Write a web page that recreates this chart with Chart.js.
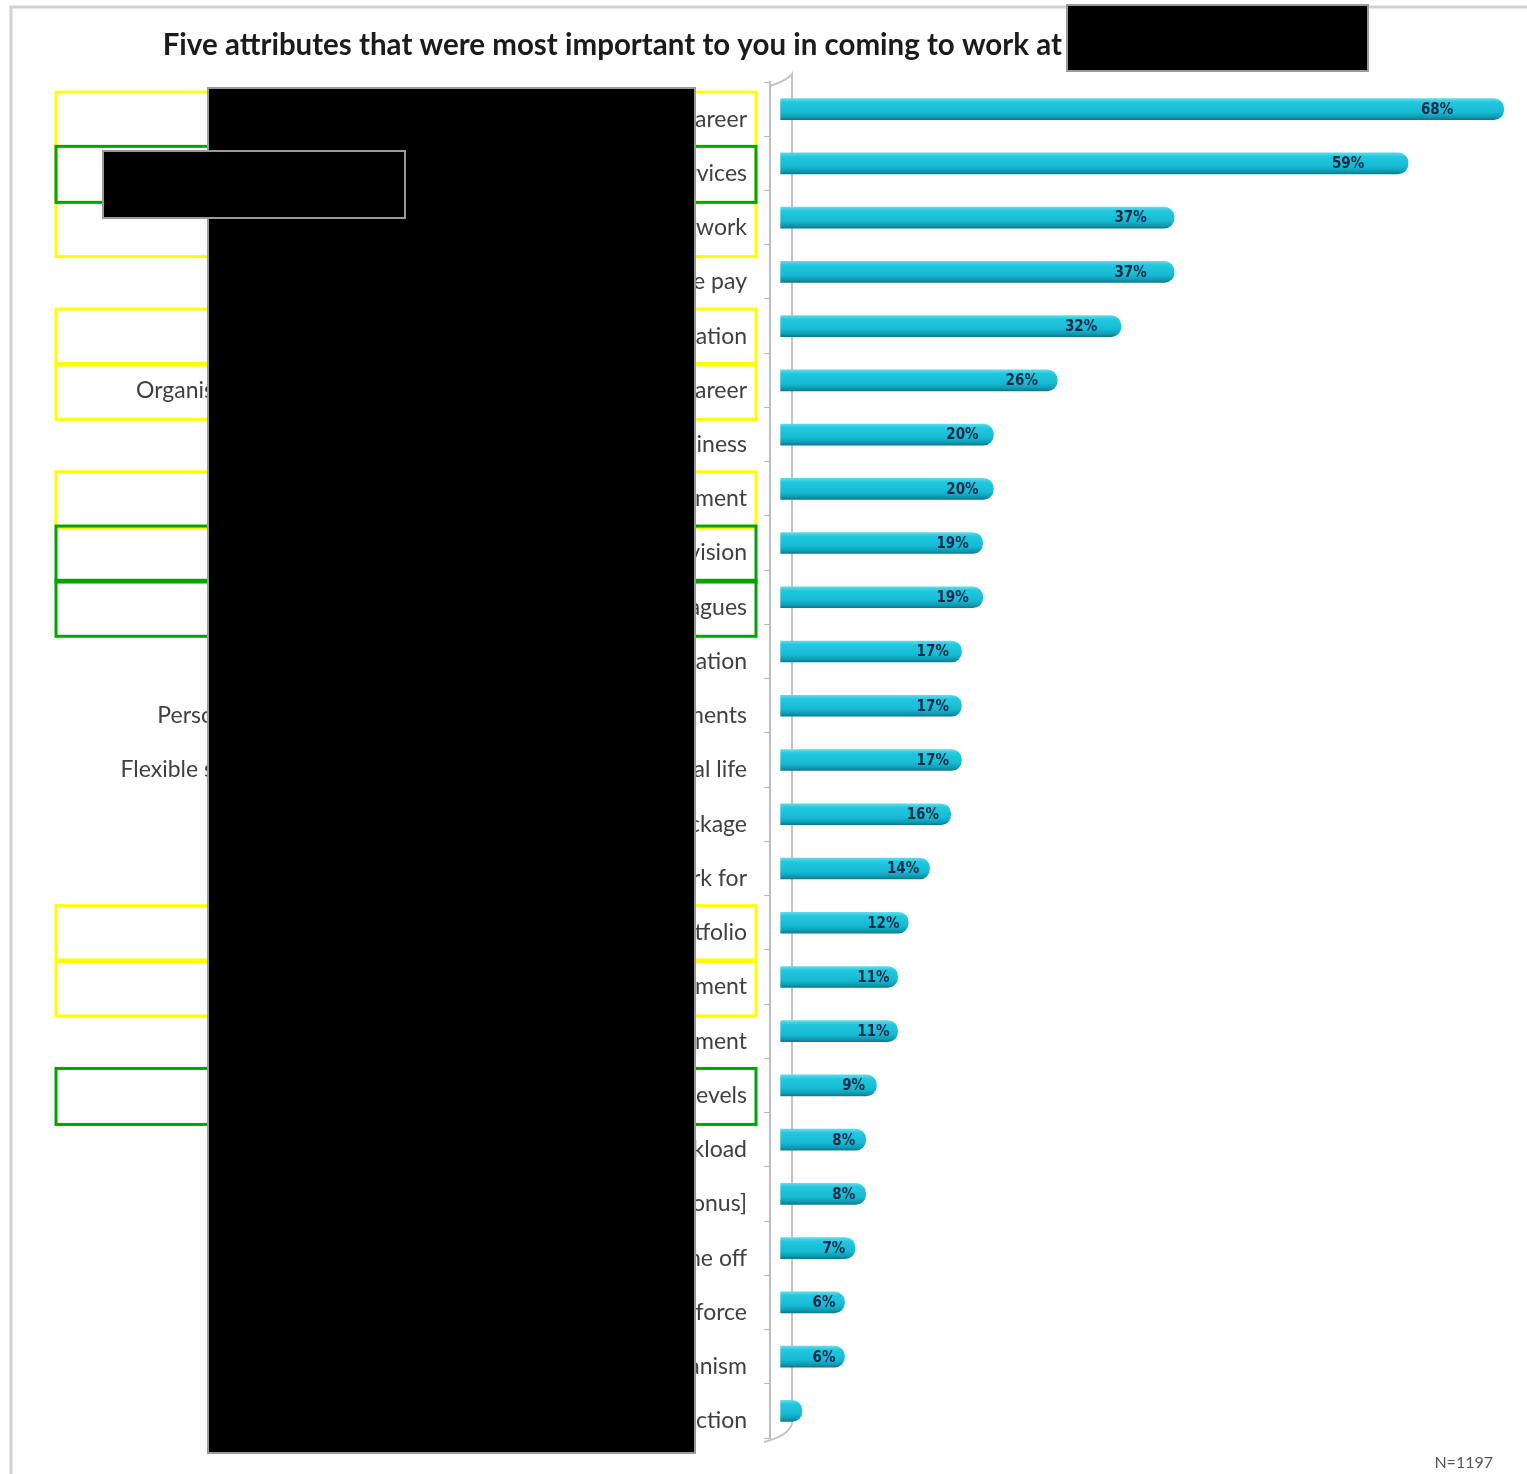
<!DOCTYPE html>
<html>
<head>
<meta charset="utf-8">
<script src="https://cdn.jsdelivr.net/npm/chart.js@4.4.1/dist/chart.umd.min.js"></script>
<style>
  html, body { margin: 0; padding: 0; background: #fff; }
  #wrap { position: relative; width: 1527px; height: 1474px; }
</style>
</head>
<body>
<div id="wrap"><canvas id="attributes"></canvas></div>
<script>
// survey answers, top to bottom
const attributes = ['career', 'services', 'work', 'competitive pay', 'reputation', 'career',
  'business', 'environment', 'vision', 'colleagues', 'location', 'assignments', 'personal life',
  'package', 'work for', 'portfolio', 'development', 'management', 'levels', 'workload',
  'bonus]', 'time off', 'workforce', 'mechanism', 'satisfaction'];
const attributeHeads = { 5: 'Organis', 11: 'Perso', 12: 'Flexible s' };
const shares = [68, 59, 37, 37, 32, 26, 20, 20, 19, 19, 17, 17, 17, 16, 14, 12, 11, 11, 9, 8, 8, 7, 6, 6, 2];
const titleText = 'Five attributes that were most important to you in coming to work at';
const sampleNote = 'N=1197';

// rows marked with coloured frames
const YELLOW = '#ffff00';
const GREEN = '#00a400';
const marks = [
  { from: 0, to: 2, color: YELLOW },
  { from: 1, to: 1, color: GREEN },
  { from: 4, to: 4, color: YELLOW },
  { from: 5, to: 5, color: YELLOW },
  { from: 7, to: 7, color: YELLOW },
  { from: 8, to: 8, color: GREEN },
  { from: 9, to: 9, color: GREEN },
  { from: 15, to: 15, color: YELLOW },
  { from: 16, to: 16, color: YELLOW },
  { from: 18, to: 18, color: GREEN }
];

function barFill(ctx) {
  const chart = ctx.chart;
  if (!chart.chartArea || !chart.scales.y) return '#1cc4da';
  const y = chart.scales.y.getPixelForValue(ctx.dataIndex);
  const g = chart.ctx.createLinearGradient(0, y - 10.5, 0, y + 10.5);
  g.addColorStop(0, '#5fdaea');
  g.addColorStop(0.18, '#22c8de');
  g.addColorStop(0.65, '#16bbd3');
  g.addColorStop(0.88, '#0f9ab1');
  g.addColorStop(1, '#0b7b90');
  return g;
}

const decorations = {
  id: 'decorations',
  beforeDraw(chart) {
    const c = chart.ctx;
    c.save();
    // page frame
    c.strokeStyle = '#d2d2d2';
    c.lineWidth = 3;
    c.beginPath();
    c.moveTo(11, 1474);
    c.lineTo(11, 7);
    c.lineTo(1527, 7);
    c.stroke();
    c.restore();
  },
  beforeDatasetsDraw(chart) {
    const c = chart.ctx;
    const { left, top, bottom } = chart.chartArea;
    const back = left + 22;
    c.save();
    c.strokeStyle = '#c2c2c8';
    c.lineWidth = 2;
    c.beginPath();
    c.moveTo(left, top + 4);
    c.quadraticCurveTo(back - 4, top - 2, back, top - 8);
    c.lineTo(back, bottom - 14);
    c.quadraticCurveTo(back - 4, bottom - 2, left - 6, bottom + 4);
    c.stroke();
    c.restore();
  },
  afterDatasetsDraw(chart) {
    const c = chart.ctx;
    const meta = chart.getDatasetMeta(0);
    const base = chart.scales.x.getPixelForValue(0);
    c.save();
    c.font = 'bold 15px "DejaVu Sans Condensed", "DejaVu Sans"';
    c.fillStyle = '#142848';
    c.textAlign = 'center';
    c.textBaseline = 'middle';
    meta.data.forEach((bar, i) => {
      if (shares[i] < 3) return;
      const x = base + (bar.x - base) * 0.93 - 16;
      c.fillText(shares[i] + '%', x, bar.y + 1);
    });
    c.restore();
  },
  afterDraw(chart) {
    const c = chart.ctx;
    const y = chart.scales.y;
    c.save();

    // frames around chosen rows
    c.lineWidth = 3;
    marks.forEach(m => {
      const y0 = y.getPixelForValue(m.from) + 11 - 28;
      const y1 = y.getPixelForValue(m.to) + 11 + 28;
      c.strokeStyle = m.color;
      c.strokeRect(56, y0, 700, y1 - y0);
    });

    // start of the longer answers
    c.font = '23px Lato';
    c.fillStyle = '#404040';
    c.textAlign = 'right';
    c.textBaseline = 'middle';
    Object.keys(attributeHeads).forEach(k => {
      c.fillText(attributeHeads[k], 214, y.getPixelForValue(+k) + 10);
    });

    // title
    c.font = 'bold 29.5px Lato';
    c.fillStyle = '#1b1b1b';
    c.fillText(titleText, 1062, 45);

    // sample size
    c.font = '16px Lato';
    c.fillStyle = '#555';
    c.fillText(sampleNote, 1493, 1463);

    // blacked-out areas
    c.fillStyle = '#000';
    c.strokeStyle = '#9a9a9a';
    c.lineWidth = 2;
    [[208, 88, 487, 1365], [103, 151, 302, 67], [1067, 5, 301, 66]].forEach(r => {
      c.fillRect(r[0], r[1], r[2], r[3]);
      c.strokeRect(r[0], r[1], r[2], r[3]);
    });
    c.restore();
  }
};

document.addEventListener('DOMContentLoaded', function () {
  const ctx = document.getElementById('attributes');

  const data = {
    labels: attributes,
    datasets: [{
      data: shares,
      backgroundColor: barFill,
      borderWidth: 0,
      borderRadius: 10,
      borderSkipped: 'start',
      barThickness: 21
    }]
  };

  const config = {
    type: 'bar',
    data: data,
    options: {
      indexAxis: 'y',
      responsive: false,
      animation: false,
      layout: { padding: { top: 82, bottom: 36, left: 0, right: 2 } },
      plugins: {
        legend: { display: false },
        title: { display: false },
        tooltip: { enabled: false }
      },
      scales: {
        x: {
          display: false,
          min: -1,
          max: 70
        },
        y: {
          afterFit: function (scale) { scale.width = 770; },
          border: { display: true, color: '#bdbdc4', width: 2 },
          grid: { drawOnChartArea: false, drawTicks: true, tickLength: 6, color: '#b4b4bc' },
          ticks: {
            padding: 17,
            labelOffset: 10,
            color: '#404040',
            font: { family: 'Lato', size: 23 }
          }
        }
      }
    },
    plugins: [decorations]
  };

  ctx.width = 1527;
  ctx.height = 1474;
  new Chart(ctx, config);
});
</script>
</body>
</html>
